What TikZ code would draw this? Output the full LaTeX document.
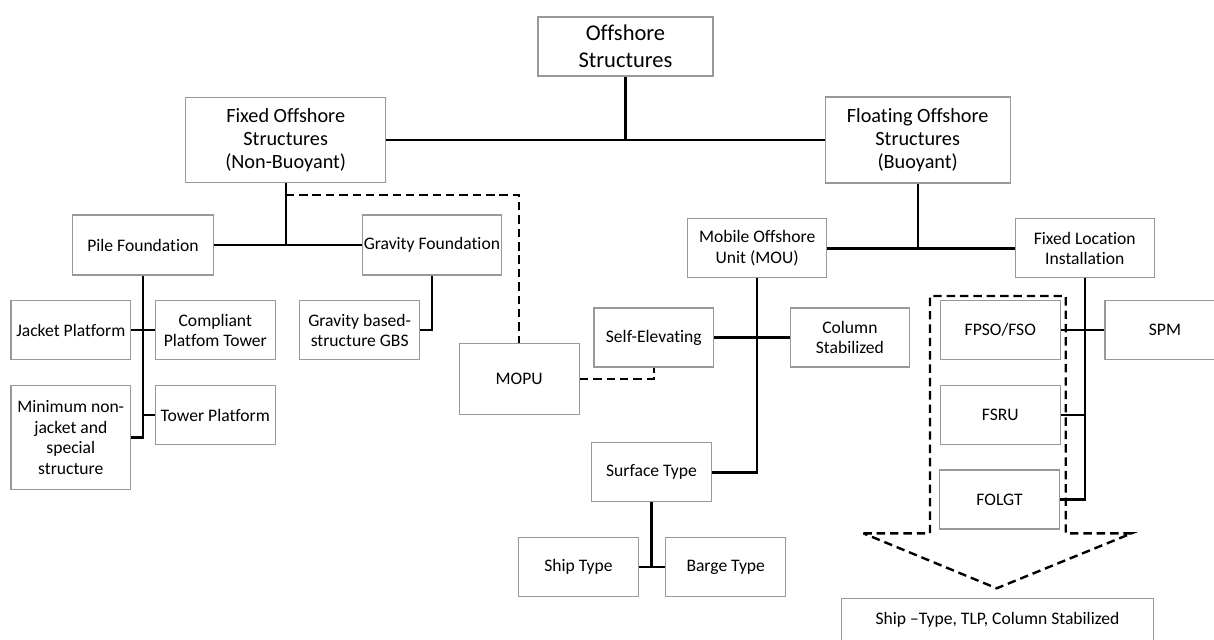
\documentclass[tikz,border=0pt]{standalone}
\usepackage{fontspec}
\setmainfont{Carlito}[Ligatures={NoCommon,NoRequired,NoContextual}]
\usepackage{tikz}
\usetikzlibrary{calc}
\newcommand{\rootfont}{\fontsize{16}{19}\selectfont}
\newcommand{\headfont}{\fontsize{14.4}{16.5}\selectfont}
\newcommand{\boxfont}{\fontsize{12.5}{14.5}\selectfont}

\begin{document}
\begin{tikzpicture}[
    x=0.025cm, y=-0.025cm,
    box/.style={rectangle, draw=black!40, line width=0.8pt, minimum width=2.99cm, minimum height=1.475cm, align=center, inner sep=1pt, font=\boxfont, fill=white},
    head/.style={box, font=\headfont},
    conn/.style={line width=1.7pt},
    dashconn/.style={line width=1.7pt, dash pattern=on 6pt off 3.5pt}
]
\useasboundingbox (0,0) rectangle (1214,639);

% Root
\node[head, font=\rootfont, minimum width=4.375cm] (root) at (625.5,46.5) {Offshore\\Structures};

% Main branches
\node[head, minimum width=5cm, minimum height=2.125cm] (fixed) at (285.7,140) {Fixed Offshore\\Structures\\(Non-Buoyant)};
\node[head, minimum width=4.625cm, minimum height=2.15cm] (floating) at (917.7,140) {Floating Offshore\\Structures\\(Buoyant)};
\draw[conn] (fixed.east) -- (floating.west);
\draw[conn] (root.south) -- (root.south |- fixed.east);

% Fixed structures
\node[box, minimum width=3.51cm, minimum height=1.5cm] (pile) at (143,245) {Pile Foundation};
\node[box, minimum width=3.49cm, minimum height=1.5cm] (gravity) at (431.9,245) {Gravity Foundation};
\draw[conn] (pile.east) -- (gravity.west);
\draw[conn] (fixed.south) -- (fixed.south |- pile.east);

\node[box] (jacket) at (70.8,330.2) {Jacket Platform};
\node[box] (compliant) at (215.3,330.2) {Compliant\\Platfom Tower};
\node[box, minimum height=2.59cm] (minimum) at (70.8,437.5) {Minimum non-\\jacket and\\special\\structure};
\node[box] (tower) at (215.3,415.2) {Tower Platform};
\node[box] (gbs) at (359.7,330.2) {Gravity based-\\structure GBS};

\draw[conn] (pile.south) |- (minimum.east);
\draw[conn] (jacket.east) -- (compliant.west);
\draw[conn] (tower.west) -- (tower.west -| pile.south);
\draw[conn] (gravity.south) |- (gbs.east);

% MOPU
\node[box, minimum width=3cm, minimum height=1.77cm] (mopu) at (519.2,378.7) {MOPU};
\coordinate (mopuknee) at ($(fixed.south)+(0,12)$);
\draw[dashconn] (mopuknee) -| (mopu.north);

% Floating structures
\node[box, minimum width=3.475cm, minimum height=1.47cm] (mou) at (757.2,248.3) {Mobile Offshore\\Unit (MOU)};
\node[box, minimum width=3.465cm, minimum height=1.47cm] (fli) at (1084.8,248.3) {Fixed Location\\Installation};
\draw[conn] (mou.east) -- (fli.west);
\draw[conn] (floating.south) -- (floating.south |- mou.east);

\node[box] (selfelev) at (653.8,337.5) {Self-Elevating};
\node[box] (column) at (849.9,337.5) {Column\\Stabilized};
\node[box] (surface) at (651.5,472.3) {Surface Type};
\node[box] (ship) at (578.5,567.2) {Ship Type};
\node[box] (barge) at (725.7,567.2) {Barge Type};

\draw[conn] (selfelev.east) -- (column.west);
\draw[conn] (mou.south) |- (surface.east);
\draw[conn] (surface.south) -- (surface.south |- ship.east);
\draw[conn] (ship.east) -- (barge.west);
\draw[dashconn] (mopu.east) -| (selfelev.south);

% Fixed location installations
\node[box] (fpso) at (1000.3,330.2) {FPSO/FSO};
\node[box] (fsru) at (1000.3,415.2) {FSRU};
\node[box] (folgt) at (999.5,499.5) {FOLGT};
\node[box, minimum width=3cm] (spm) at (1165,330.2) {SPM};

\draw[conn] (fli.south) |- (folgt.east);
\draw[conn] (fpso.east) -- (spm.west);
\draw[conn] (fsru.east) -- (fsru.east -| fli.south);

% Dashed group and its arrow
\draw[dashconn] (863.3,533.3) -- (930,533.3) -- (930,296) -- (1065.7,296) -- (1065.7,533.3) -- (1131.7,533.3) -- (996.7,588.3) -- cycle;

\node[box, minimum width=7.79cm, minimum height=1.06cm] (hulls) at (997.5,619.8) {Ship \textendash Type, TLP, Column Stabilized};

\end{tikzpicture}
\end{document}
